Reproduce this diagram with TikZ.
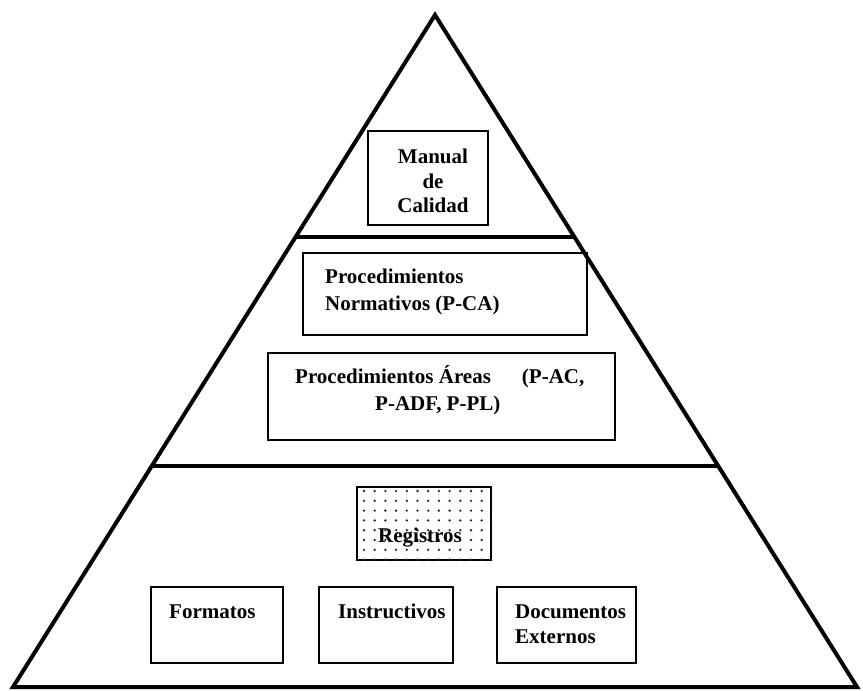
\documentclass[tikz,border=0pt]{standalone}
\usepackage{fontspec}
\setmainfont{Liberation Serif}[BoldFont={Liberation Serif Bold}]
\usetikzlibrary{calc}

\tikzset{
  outline/.style={line width=4pt, line join=miter},
  tier/.style={line width=3.5pt},
  doc/.style={draw, line width=2pt, rectangle, inner sep=0pt},
  lbl/.style={font=\rmfamily\bfseries\fontsize{21}{25}\selectfont, inner sep=0pt, anchor=base west},
  lblc/.style={font=\rmfamily\bfseries\fontsize{21}{25}\selectfont, inner sep=0pt, anchor=base},
}

\begin{document}
\begin{tikzpicture}[x=1pt, y=-1pt]
  \useasboundingbox (0,0) rectangle (863,691);

  % pyramid outline
  \coordinate (apex) at (435,15);
  \coordinate (bl) at (13,687);
  \coordinate (br) at (857,687);
  \draw[outline] (apex) -- (bl) -- (br) -- cycle;

  % tier separators
  \draw[tier] ($(apex)!0.3304!(bl)$) -- ($(apex)!0.3304!(br)$);
  \draw[tier] ($(apex)!0.6711!(bl)$) -- ($(apex)!0.6711!(br)$);

  % top tier
  \node[doc, minimum width=120pt, minimum height=94pt] (manual) at (428,178) {};
  \node[lblc] (manualA) at (433,163) {Manual};
  \node[lblc] (manualB) at (433,188) {de};
  \node[lblc] (manualC) at (433,212) {Calidad};

  % middle tier
  \node[doc, minimum width=284pt, minimum height=82pt] (normativos) at (445,294) {};
  \node[lbl] (normA) at (325,283) {Procedimientos};
  \node[lbl] (normB) at (325,310) {Normativos (P-CA)};

  \node[doc, minimum width=347pt, minimum height=87pt] (areas) at (441.5,396.5) {};
  \node[lbl] (areasA) at (295,383) {Procedimientos Áreas\hspace{31pt}(P-AC,};
  \node[lbl] (areasB) at (375,410) {P-ADF, P-PL)};

  % bottom tier
  \node[doc, minimum width=134pt, minimum height=73pt] (registros) at (424,523.5) {};
  \begin{scope}
    \clip (registros.south west) rectangle (registros.north east);
    \foreach \i in {0,...,13} {
      \foreach \j in {0,...,7} {
        \fill[black!85] ({364+10.7*\i},{491+9.8*\j}) circle (1.3pt);
      }
    }
  \end{scope}
  \node[lblc] (registrosT) at (420,542) {Registros};

  \node[doc, minimum width=132pt, minimum height=76pt] (formatos) at (217,625) {};
  \node[lbl] (formatosT) at (169,618) {Formatos};

  \node[doc, minimum width=134pt, minimum height=76pt] (instructivos) at (386,625) {};
  \node[lbl] (instructivosT) at (338,618) {Instructivos};

  \node[doc, minimum width=139pt, minimum height=76pt] (externos) at (566.5,625) {};
  \node[lbl] (externosA) at (515,618) {Documentos};
  \node[lbl] (externosB) at (515,643) {Externos};
\end{tikzpicture}
\end{document}
